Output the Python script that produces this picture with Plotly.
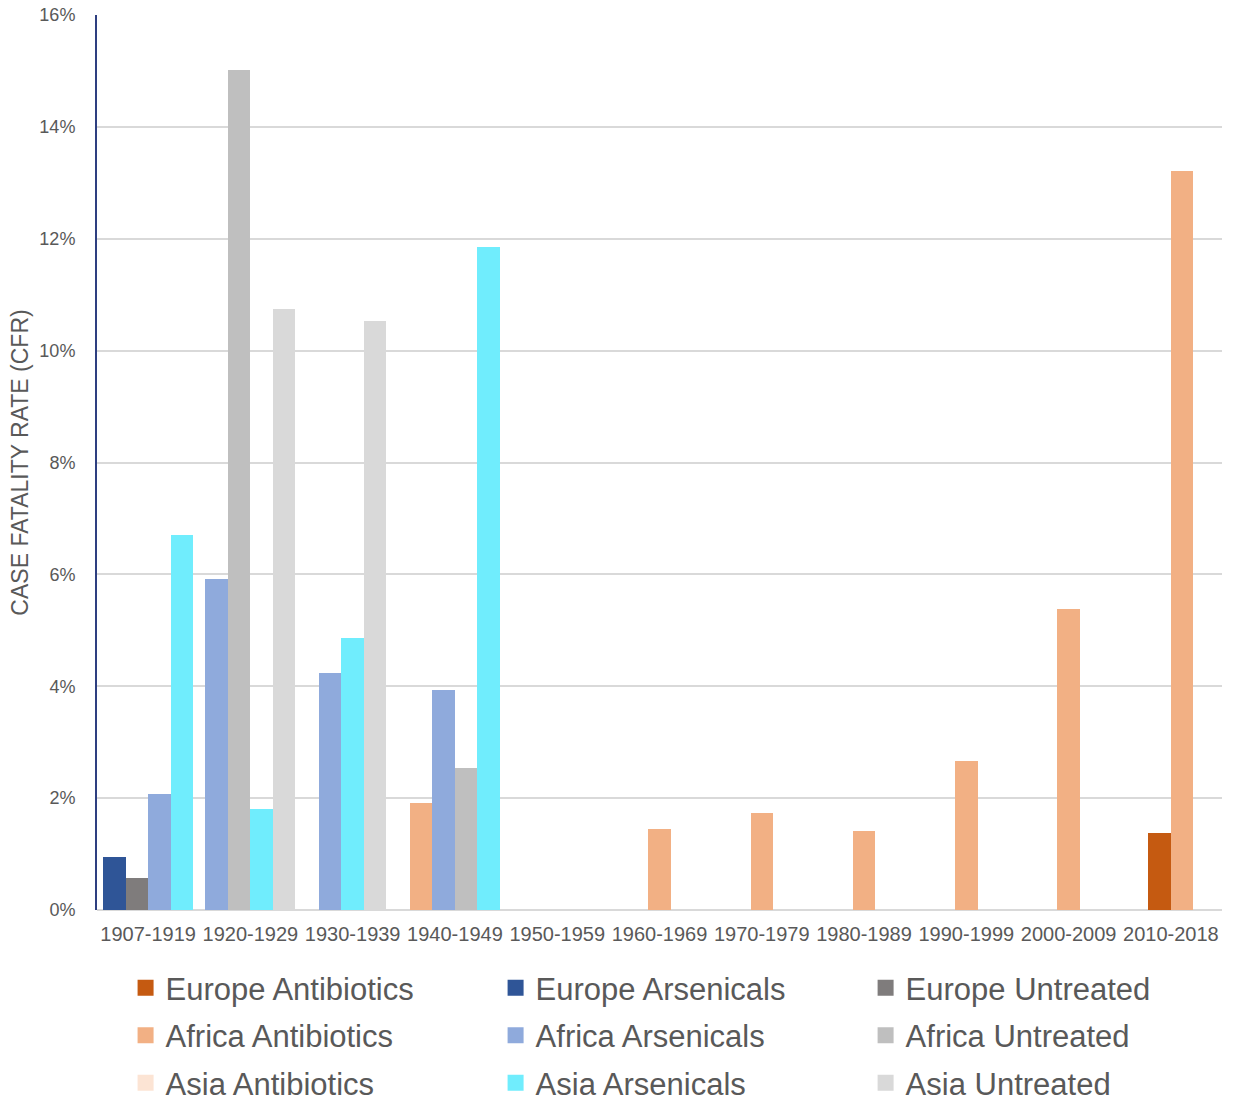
import plotly.graph_objects as go

# Decade bins on the x axis
periods = ["1907-1919", "1920-1929", "1930-1939", "1940-1949", "1950-1959",
           "1960-1969", "1970-1979", "1980-1989", "1990-1999", "2000-2009",
           "2010-2018"]

# Case fatality rate (%) per region and treatment; None = no data
europe_antibiotics = [None, None, None, None, None, None, None, None, None, None, 1.38]
europe_arsenicals = [0.94, None, None, None, None, None, None, None, None, None, None]
europe_untreated = [0.58, None, None, None, None, None, None, None, None, None, None]
africa_antibiotics = [None, None, None, 1.92, None, 1.44, 1.73, 1.42, 2.67, 5.39, 13.21]
africa_arsenicals = [2.07, 5.92, 4.23, 3.94, None, None, None, None, None, None, None]
africa_untreated = [None, 15.02, None, 2.53, None, None, None, None, None, None, None]
asia_antibiotics = [None, None, None, None, None, None, None, None, None, None, None]
asia_arsenicals = [6.70, 1.80, 4.86, 11.85, None, None, None, None, None, None, None]
asia_untreated = [None, 10.74, 10.53, None, None, None, None, None, None, None, None]

series = [
    ("Europe Antibiotics", europe_antibiotics, "#C55A11"),
    ("Europe Arsenicals", europe_arsenicals, "#2F5597"),
    ("Europe Untreated", europe_untreated, "#7F7C7C"),
    ("Africa Antibiotics", africa_antibiotics, "#F2B084"),
    ("Africa Arsenicals", africa_arsenicals, "#8FAADC"),
    ("Africa Untreated", africa_untreated, "#BFBFBF"),
    ("Asia Antibiotics", asia_antibiotics, "#FCE4D4"),
    ("Asia Arsenicals", asia_arsenicals, "#70EDFD"),
    ("Asia Untreated", asia_untreated, "#D9D9D9"),
]

BAR_W = 0.22

# Within each period, the bars that have data sit side by side, centred on the period
offsets = [[None] * len(periods) for _ in series]
for j in range(len(periods)):
    present = [i for i, (_, vals, _) in enumerate(series) if vals[j] is not None]
    start = -len(present) * BAR_W / 2
    for k, i in enumerate(present):
        offsets[i][j] = start + k * BAR_W

FONT = "Liberation Sans, Arial, sans-serif"
GREY_TEXT = "#595959"

# Legend grid: three columns by three rows, one legend box per entry
col_x = [0.0254, 0.3543, 0.6832]
row_y = [-0.0872, -0.1402, -0.1933]

fig = go.Figure()
legend_layouts = {}
for idx, (name, vals, color) in enumerate(series):
    key = "legend" if idx == 0 else f"legend{idx + 1}"
    fig.add_trace(go.Bar(
        x=periods,
        y=vals,
        name=name,
        width=BAR_W,
        offset=[o if o is not None else 0 for o in offsets[idx]],
        marker=dict(color=color, line=dict(width=0)),
        legendgroup=name,
        showlegend=False,
    ))
    # Square swatch used as the legend key for this series
    fig.add_trace(go.Scatter(
        x=[None],
        y=[None],
        mode="markers",
        name=name,
        marker=dict(symbol="square", size=16, color=color, line=dict(width=0)),
        legendgroup=name,
        legend=key,
        showlegend=True,
        hoverinfo="skip",
    ))
    legend_layouts[key] = dict(
        orientation="h",
        x=col_x[idx % 3],
        y=row_y[idx // 3],
        xanchor="left",
        yanchor="middle",
        font=dict(family=FONT, size=31, color=GREY_TEXT),
        bgcolor="rgba(0,0,0,0)",
        itemsizing="trace",
        itemclick=False,
        itemdoubleclick=False,
    )

fig.update_layout(
    width=1238,
    height=1101,
    margin=dict(l=97, r=16, t=15, b=191, autoexpand=False),
    paper_bgcolor="white",
    plot_bgcolor="white",
    barmode="overlay",
    bargap=0,
    font=dict(family=FONT, color=GREY_TEXT),
    xaxis=dict(
        type="category",
        categoryorder="array",
        categoryarray=periods,
        showgrid=False,
        showline=False,
        ticks="",
        tickangle=0,
        tickfont=dict(family=FONT, size=20, color=GREY_TEXT),
        ticklabelstandoff=10,
        fixedrange=True,
    ),
    yaxis=dict(
        range=[0, 16],
        dtick=2,
        ticksuffix="%",
        showgrid=True,
        gridcolor="#D9D9D9",
        gridwidth=2,
        zeroline=True,
        zerolinecolor="#D9D9D9",
        zerolinewidth=2,
        showline=True,
        linecolor="#2E3F80",
        linewidth=2,
        ticks="",
        tickfont=dict(family=FONT, size=18, color=GREY_TEXT),
        ticklabelstandoff=16,
        title=dict(text="CASE FATALITY RATE (CFR)",
                   font=dict(family=FONT, size=23, color=GREY_TEXT),
                   standoff=4),
        fixedrange=True,
    ),
    **legend_layouts,
)

fig.write_html("out.html")
